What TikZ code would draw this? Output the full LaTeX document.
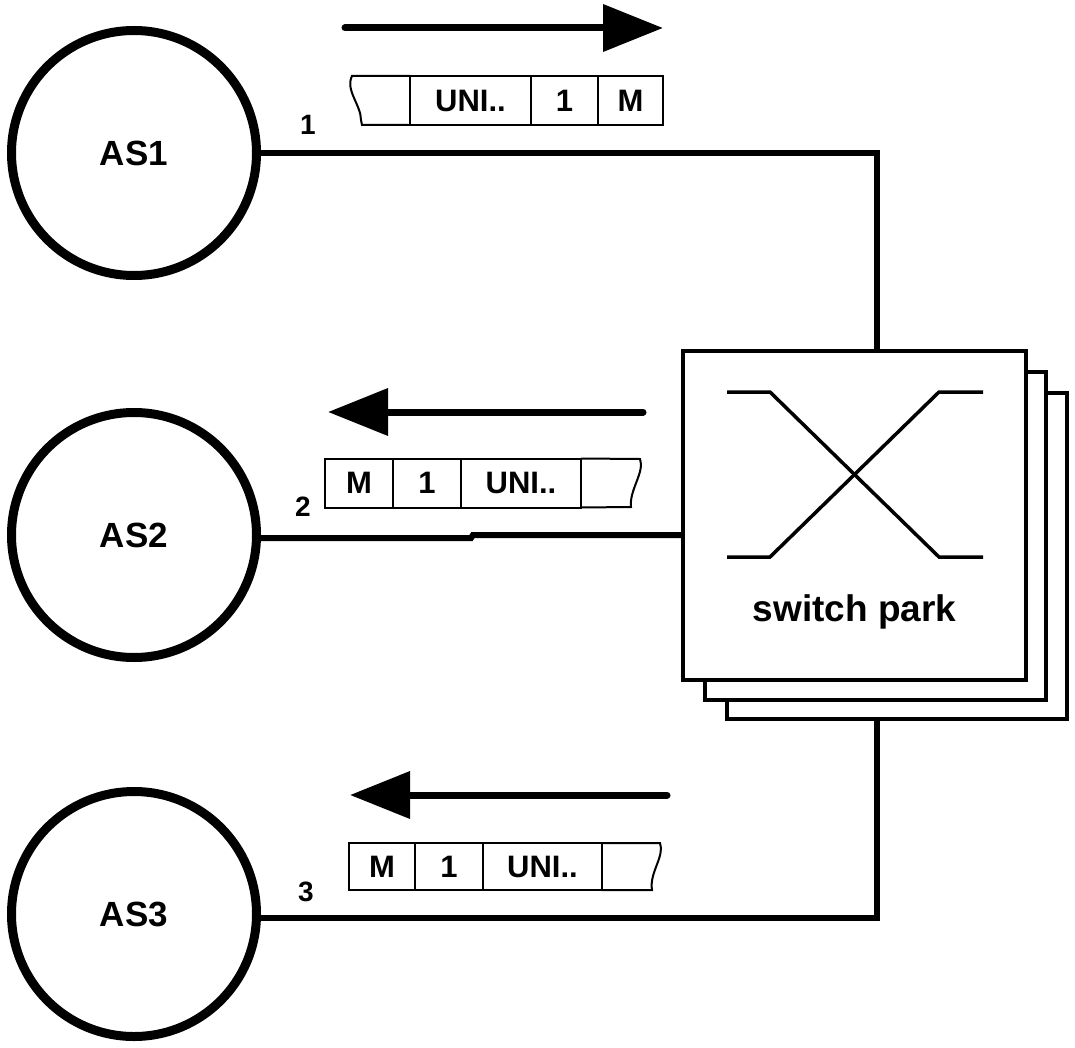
\documentclass[tikz,border=0pt]{standalone}
\usepackage{fontspec}
\setmainfont{Liberation Sans}
\usetikzlibrary{arrows.meta}
\begin{document}
\begin{tikzpicture}[x=1pt,y=-1pt,
  asnode/.style={circle, draw, line width=9pt, minimum size=245pt, inner sep=0pt, outer sep=0pt,
    font=\bfseries\fontsize{35}{38}\selectfont},
  link/.style={line width=6pt},
  layer/.style={draw, fill=white, line width=4pt, inner sep=0pt, outer sep=0pt},
  xline/.style={line width=3.5pt},
  cell/.style={draw, line width=2pt, inner sep=0pt, outer sep=0pt, minimum height=49pt,
    font=\bfseries\fontsize{31}{34}\selectfont},
  tape/.style={line width=2pt},
  portlabel/.style={font=\bfseries\fontsize{28}{30}\selectfont, inner sep=0pt},
  flow/.style={line width=7pt, line cap=round, -{Triangle[length=60pt,width=46pt]}},
  swlabel/.style={font=\bfseries\fontsize{37}{42}\selectfont, inner sep=0pt}
]
\useasboundingbox (0,0) rectangle (1075,1048);

% AS nodes
\node[asnode] (as1) at (134,153) {AS1};
\node[asnode] (as2) at (134,535) {AS2};
\node[asnode] (as3) at (134,914) {AS3};

% switch park (stacked layers)
\path[layer] (727,393) rectangle (1067,719);
\path[layer] (705,372) rectangle (1046,700);
\coordinate (backbot) at (877,719);
\node[layer, minimum width=343pt, minimum height=329pt] (sw) at (854.5,515.5) {};
\node[swlabel] (swl) at (854.5,612) {switch park};
% cross symbol
\draw[xline] (727,392) -- (770,392) -- (939,557) -- (983,557);
\draw[xline] (727,557) -- (770,557) -- (939,392) -- (983,392);

% connectors
\coordinate (j1) at (877,153);
\coordinate (j3) at (877,918);
\coordinate (k2) at (471,538);
\coordinate (k2b) at (473,535);
\draw[link] (as1.east |- j1) -- (j1) -- (j1 |- sw.north);
\draw[link] (as2.east |- k2) -- (k2) -- (k2b) -- (sw.west |- k2b);
\draw[link] (as3.east |- j3) -- (j3) -- (backbot);

% port labels
\node[portlabel] (p1) at (308,125) {1};
\node[portlabel] (p2) at (303,507) {2};
\node[portlabel] (p3) at (306,892) {3};

% flow arrows
\coordinate (f1a) at (345,28);  \coordinate (f1b) at (663,28);
\coordinate (f2a) at (643,412); \coordinate (f2b) at (328,412);
\coordinate (f3a) at (667,795); \coordinate (f3b) at (350,795);
\draw[flow] (f1a) -- (f1b);
\draw[flow] (f2a) -- (f2b);
\draw[flow] (f3a) -- (f3b);

% packet 1
\node[cell, minimum width=121pt] (c1u) at (470.5,100.5) {UNI..};
\node[cell, minimum width=67pt] (c1n) at (564.5,100.5) {1};
\node[cell, minimum width=65pt] (c1m) at (630.5,100.5) {M};
\draw[tape] (c1u.north west) -- (352,76) .. controls (345,90) and (361,105) .. (361,120) -- (362,125) -- (c1u.south west);

% packet 2
\node[cell, minimum width=68pt] (c2m) at (359,483) {M};
\node[cell, minimum width=68pt] (c2n) at (427,483) {1};
\node[cell, minimum width=120pt] (c2u) at (521,483) {UNI..};
\draw[tape] (c2u.north east) -- (640,459) .. controls (645,472) and (629,490) .. (631,507) -- (c2u.south east);

% packet 3
\node[cell, minimum width=66pt, minimum height=47pt] (c3m) at (382,866.5) {M};
\node[cell, minimum width=68pt, minimum height=47pt] (c3n) at (449,866.5) {1};
\node[cell, minimum width=119pt, minimum height=47pt] (c3u) at (542.5,866.5) {UNI..};
\draw[tape] (c3u.north east) -- (660,843) .. controls (665,856) and (649,873) .. (652,890) -- (c3u.south east);
\end{tikzpicture}
\end{document}
